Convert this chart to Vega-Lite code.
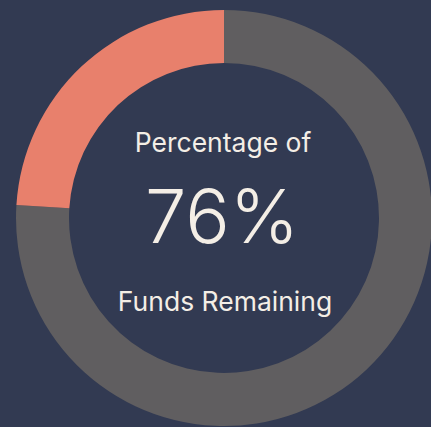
{
  "$schema": "https://vega.github.io/schema/vega-lite/v6.json",
  "width": 431,
  "height": 427,
  "autosize": {"type": "fit", "contains": "padding"},
  "padding": {"left": 17, "top": 9, "right": 0, "bottom": 0},
  "background": "#323a52",
  "config": {"view": {"stroke": null}},
  "datasets": {
    "ring": [
      {"category": "Remaining", "value": 76},
      {"category": "Used", "value": 24}
    ],
    "labels": [
      {"role": "top", "label": "Percentage of"},
      {"role": "big", "label": "76%"},
      {"role": "bottom", "label": "Funds Remaining"}
    ]
  },
  "layer": [
    {
      "data": {"name": "ring"},
      "mark": {"type": "arc", "radius": 208, "innerRadius": 155, "stroke": null},
      "encoding": {
        "theta": {"field": "value", "type": "quantitative", "stack": true},
        "color": {
          "field": "category",
          "type": "nominal",
          "scale": {"domain": ["Remaining", "Used"], "range": ["#605e60", "#e8806c"]},
          "legend": null
        }
      }
    },
    {
      "data": {"name": "labels"},
      "transform": [{"filter": "datum.role === 'top'"}],
      "mark": {"type": "text", "font": "Inter", "fontSize": 26.5, "fontWeight": 400, "color": "#f4eee6", "align": "center", "baseline": "alphabetic", "dy": -66, "dx": -1},
      "encoding": {"text": {"field": "label", "type": "nominal"}}
    },
    {
      "data": {"name": "labels"},
      "transform": [{"filter": "datum.role === 'big'"}],
      "mark": {"type": "text", "font": "Inter", "fontSize": 74, "fontWeight": 300, "color": "#f4eee6", "align": "center", "baseline": "alphabetic", "dy": 25, "dx": -2},
      "encoding": {"text": {"field": "label", "type": "nominal"}}
    },
    {
      "data": {"name": "labels"},
      "transform": [{"filter": "datum.role === 'bottom'"}],
      "mark": {"type": "text", "font": "Inter", "fontSize": 26.5, "fontWeight": 400, "color": "#f4eee6", "align": "center", "baseline": "alphabetic", "dy": 93, "dx": 1},
      "encoding": {"text": {"field": "label", "type": "nominal"}}
    }
  ]
}
